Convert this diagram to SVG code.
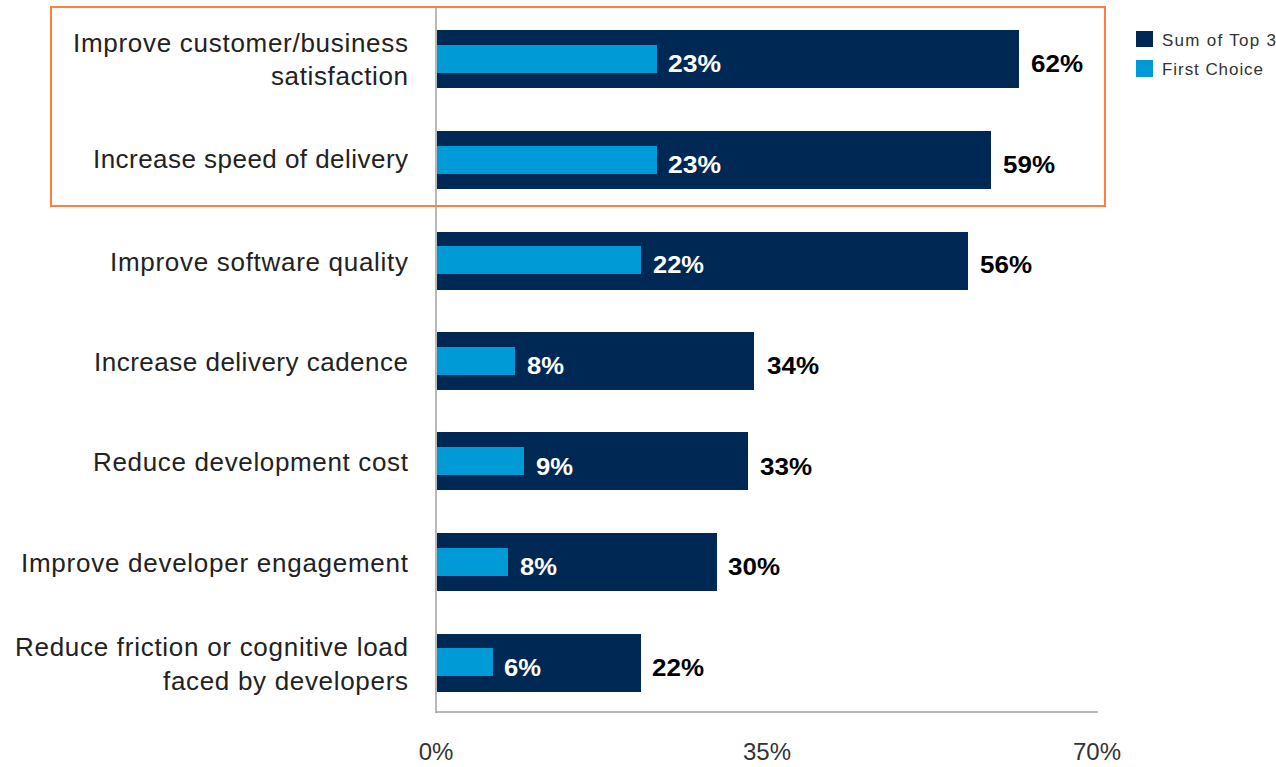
<svg xmlns="http://www.w3.org/2000/svg" width="1276" height="767" viewBox="0 0 1276 767">
<style>
.cat{font-family:"Liberation Sans",Arial,sans-serif;font-size:26px;fill:#222;text-anchor:end}
.dark{fill:#002855}
.light{fill:#009bd6}
.vin{font-family:"Liberation Sans",Arial,sans-serif;font-size:24px;font-weight:bold;fill:#fff}
.vout{font-family:"Liberation Sans",Arial,sans-serif;font-size:24px;font-weight:bold;fill:#000}
.tick{font-family:"Liberation Sans",Arial,sans-serif;font-size:24px;fill:#333;text-anchor:middle}
.leg{font-family:"Liberation Sans",Arial,sans-serif;font-size:17px;fill:#333}
.axis{stroke:#a0a0a0;stroke-width:1.5;fill:none}
</style>
<rect width="1276" height="767" fill="#fff"/>
<g id="bars">
<g id="row1">
<rect class="dark" x="437" y="30" width="582" height="58"/>
<rect class="light" x="437" y="45" width="220" height="28"/>
<text class="vin" x="668" y="72" textLength="53" lengthAdjust="spacingAndGlyphs">23%</text>
<text class="vout" x="1031" y="72" textLength="52" lengthAdjust="spacingAndGlyphs">62%</text>
<text class="cat" x="408" y="52" textLength="335">Improve customer/business</text>
<text class="cat" x="408" y="85" textLength="137">satisfaction</text>
</g>
<g id="row2">
<rect class="dark" x="437" y="131" width="554" height="58"/>
<rect class="light" x="437" y="146" width="220" height="28"/>
<text class="vin" x="668" y="173" textLength="53" lengthAdjust="spacingAndGlyphs">23%</text>
<text class="vout" x="1003" y="173" textLength="52" lengthAdjust="spacingAndGlyphs">59%</text>
<text class="cat" x="408" y="168" textLength="315">Increase speed of delivery</text>
</g>
<g id="row3">
<rect class="dark" x="437" y="232" width="531" height="58"/>
<rect class="light" x="437" y="246" width="204" height="28"/>
<text class="vin" x="653" y="273" textLength="51" lengthAdjust="spacingAndGlyphs">22%</text>
<text class="vout" x="980" y="273" textLength="52" lengthAdjust="spacingAndGlyphs">56%</text>
<text class="cat" x="408" y="271" textLength="298">Improve software quality</text>
</g>
<g id="row4">
<rect class="dark" x="437" y="332" width="317" height="58"/>
<rect class="light" x="437" y="347" width="78" height="28"/>
<text class="vin" x="527" y="374" textLength="37" lengthAdjust="spacingAndGlyphs">8%</text>
<text class="vout" x="767" y="374" textLength="52" lengthAdjust="spacingAndGlyphs">34%</text>
<text class="cat" x="408" y="371" textLength="314">Increase delivery cadence</text>
</g>
<g id="row5">
<rect class="dark" x="437" y="432" width="311" height="58"/>
<rect class="light" x="437" y="447" width="87" height="28"/>
<text class="vin" x="536" y="475" textLength="37" lengthAdjust="spacingAndGlyphs">9%</text>
<text class="vout" x="760" y="475" textLength="52" lengthAdjust="spacingAndGlyphs">33%</text>
<text class="cat" x="408" y="471" textLength="315">Reduce development cost</text>
</g>
<g id="row6">
<rect class="dark" x="437" y="533" width="280" height="58"/>
<rect class="light" x="437" y="548" width="71" height="28"/>
<text class="vin" x="520" y="575" textLength="37" lengthAdjust="spacingAndGlyphs">8%</text>
<text class="vout" x="728" y="575" textLength="52" lengthAdjust="spacingAndGlyphs">30%</text>
<text class="cat" x="408" y="572" textLength="387">Improve developer engagement</text>
</g>
<g id="row7">
<rect class="dark" x="437" y="634" width="204" height="58"/>
<rect class="light" x="437" y="648" width="56" height="28"/>
<text class="vin" x="504" y="676" textLength="37" lengthAdjust="spacingAndGlyphs">6%</text>
<text class="vout" x="652" y="676" textLength="52" lengthAdjust="spacingAndGlyphs">22%</text>
<text class="cat" x="408" y="656" textLength="393">Reduce friction or cognitive load</text>
<text class="cat" x="408" y="690" textLength="245">faced by developers</text>
</g>
</g>
<g id="axes">
<line class="axis" x1="436" y1="7" x2="436" y2="713"/>
<line class="axis" x1="436" y1="712" x2="1098" y2="712"/>
<text class="tick" x="436" y="760">0%</text>
<text class="tick" x="767" y="760">35%</text>
<text class="tick" x="1097" y="760">70%</text>
</g>
<g id="highlight">
<rect x="51" y="7" width="1054" height="199" fill="none" stroke="#ff7f41" stroke-width="2"/>
</g>
<g id="legend">
<rect class="dark" x="1136" y="31" width="17" height="16"/>
<text class="leg" x="1162" y="46" textLength="114">Sum of Top 3</text>
<rect class="light" x="1136" y="60" width="17" height="17"/>
<text class="leg" x="1162" y="75" textLength="101">First Choice</text>
</g>
</svg>
